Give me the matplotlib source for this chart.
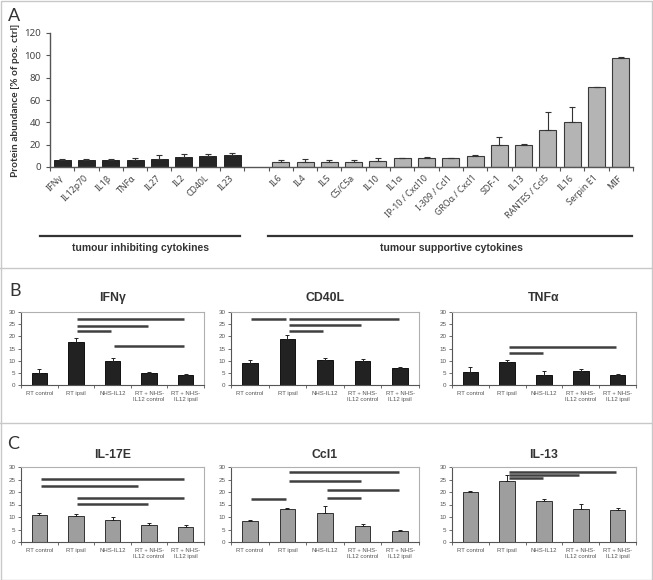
import numpy as np
import matplotlib
matplotlib.use("Agg")
import matplotlib.pyplot as plt
from matplotlib.lines import Line2D
from matplotlib.patches import Rectangle

# ---- panel A data ----
inhib_labels = ['IFNγ', 'IL12p70', 'IL1β', 'TNFα', 'IL27', 'IL2', 'CD40L', 'IL23']
inhib_vals = [6.0, 6.0, 6.0, 6.0, 7.2, 9.0, 9.9, 10.7]
inhib_err = [1.2, 1.5, 1.5, 2.4, 3.2, 2.3, 1.4, 1.8]

supp_labels = ['IL6', 'IL4', 'IL5', 'C5/C5a', 'IL10', 'IL1α', 'IP-10 / Cxcl10',
               'I-309 / Ccl1', 'GROα / Cxcl1', 'SDF-1', 'IL13', 'RANTES / Ccl5',
               'IL16', 'Serpin E1', 'MIF']
supp_vals = [4.8, 4.8, 4.5, 4.5, 5.7, 7.8, 7.8, 7.8, 10.0, 20.0, 20.0, 33.0, 40.0, 71.3, 97.3]
supp_err = [1.2, 2.1, 2.1, 2.1, 2.3, 0.7, 1.2, 0.5, 0.5, 7.0, 0.5, 16.0, 14.0, 0.7, 1.2]

# ---- panels B / C data ----
groups = ['RT control', 'RT ipsil', 'NHS-IL12', 'RT + NHS-\nIL12 control', 'RT + NHS-\nIL12 ipsil']

ifng_vals = [4.8, 17.7, 10.0, 5.0, 4.1]
ifng_err = [1.6, 1.7, 1.3, 0.5, 0.3]
ifng_sig = [(1, 4, 27.0), (1, 3, 24.3), (1, 2, 22.1), (2, 4, 16.1)]

cd40l_vals = [8.9, 18.7, 10.2, 9.8, 6.8]
cd40l_err = [1.3, 1.9, 1.1, 0.8, 0.7]
cd40l_sig = [(0, 1, 27.1), (1, 4, 27.1), (1, 3, 24.8), (1, 2, 22.2)]

tnfa_vals = [5.5, 9.5, 4.1, 5.7, 4.1]
tnfa_err = [2.0, 0.9, 1.5, 0.8, 0.5]
tnfa_sig = [(1, 4, 15.7), (1, 2, 13.0)]

il17e_vals = [10.8, 10.5, 9.0, 6.7, 6.1]
il17e_err = [0.9, 0.9, 1.0, 1.0, 0.9]
il17e_sig = [(0, 4, 25.2), (0, 2.75, 22.6), (1, 4, 17.5), (1, 3, 15.1)]

ccl1_vals = [8.3, 13.2, 11.7, 6.5, 4.3]
ccl1_err = [0.6, 0.5, 2.6, 0.6, 0.4]
ccl1_sig = [(0, 1, 17.3), (1, 4, 28.0), (1, 3, 24.3), (2, 4, 20.9), (2, 3, 17.5)]

il13_vals = [19.9, 24.3, 16.5, 13.2, 12.7]
il13_err = [0.6, 2.4, 0.6, 2.0, 0.9]
il13_sig = [(1, 4, 28.1), (1, 3, 26.7), (1, 2, 25.6)]

W, H = 653, 580
fig = plt.figure(figsize=(W / 100, H / 100), dpi=100)


def add_ax(left, top, right, bottom):
    return fig.add_axes([left / W, 1 - bottom / H, (right - left) / W, (bottom - top) / H])


def ftext(x, y, s, **kw):
    fig.text(x / W, 1 - y / H, s, **kw)


def fline(x0, x1, y0, y1, **kw):
    fig.add_artist(Line2D([x0 / W, x1 / W], [1 - y0 / H, 1 - y1 / H],
                          transform=fig.transFigure, **kw))


# frame and separators
fig.add_artist(Rectangle((0.5 / W, 0.5 / H), (W - 1.5) / W, (H - 1.5) / H, fill=False,
                         edgecolor='#c8c8c8', lw=1.0, transform=fig.transFigure))
fline(0, W, 268, 268, color='#c8c8c8', lw=1.0)
fline(0, W, 423, 423, color='#c8c8c8', lw=1.0)

# ---- panel A ----
ax = add_ax(50, 33, 633, 167)
xi = np.arange(len(inhib_labels))
xs = np.arange(len(supp_labels)) + len(inhib_labels) + 1
ekw = dict(elinewidth=0.8, capthick=0.8, ecolor='#333333')
ax.bar(xi, inhib_vals, width=0.7, color='#262626', edgecolor='#111111', lw=0.6,
       yerr=[np.zeros(len(xi)), inhib_err], capsize=2.5, error_kw=ekw)
ax.bar(xs, supp_vals, width=0.7, color='#b4b4b4', edgecolor='#3a3a3a', lw=0.8,
       yerr=[np.zeros(len(xs)), supp_err], capsize=2.5, error_kw=ekw)
ax.set_xlim(-0.5, xs[-1] + 0.5)
ax.set_ylim(0, 120)
ax.set_yticks(range(0, 121, 20))
ax.set_xticks(np.arange(-0.5, xs[-1] + 1, 1))
ax.set_xticklabels([])
ax.set_xticks(np.concatenate([xi, xs]), minor=True)
ax.set_xticklabels(inhib_labels + supp_labels, minor=True, rotation=45, ha='right',
                   va='center', rotation_mode='anchor', fontsize=6.3,
                   family='Noto Sans', color='#444444')
ax.tick_params(axis='x', which='minor', length=0, pad=7)
ax.tick_params(axis='x', which='major', length=3, color='#555555', direction='out')
ax.tick_params(axis='y', length=3, color='#555555', labelsize=7, labelcolor='#444444')
for lab in ax.get_yticklabels():
    lab.set_family('Noto Sans')
for s in ['top', 'right']:
    ax.spines[s].set_visible(False)
for s in ['left', 'bottom']:
    ax.spines[s].set_color('#555555')
    ax.spines[s].set_linewidth(1.0)
ax.set_ylabel('Protein abundance [% of pos. ctrl]', fontsize=7.3, fontweight='bold',
              family='Lato', color='#333333', labelpad=3)

ftext(14, 16, 'A', fontsize=13, family='Lato', color='#333333', ha='center', va='center')
fline(40, 240, 236, 236, color='#333333', lw=1.6)
fline(268, 632, 236, 236, color='#333333', lw=1.6)
ftext(140, 248, 'tumour inhibiting cytokines', fontsize=7.5, fontweight='bold',
      family='Liberation Sans', color='#333333', ha='center', va='center')
ftext(451, 248, 'tumour supportive cytokines', fontsize=7.5, fontweight='bold',
      family='Liberation Sans', color='#333333', ha='center', va='center')


# ---- panels B and C ----
def small_panel(left, right, top, bottom, title, title_y, vals, err, sig, color, edge):
    a = add_ax(left, top, right, bottom)
    x = np.arange(len(groups))
    a.bar(x, vals, width=0.42, color=color, edgecolor=edge, lw=0.7,
          yerr=[np.zeros(len(x)), err], capsize=1.5,
          error_kw=dict(elinewidth=0.7, capthick=0.7, ecolor='#222222'))
    for i0, i1, y in sig:
        a.plot([i0 + 0.04, i1 - 0.04], [y, y], color='#404040', lw=1.8,
               solid_capstyle='butt')
    a.set_xlim(-0.5, 4.5)
    a.set_ylim(0, 30)
    a.set_yticks(range(0, 31, 5))
    a.set_xticks(np.arange(-0.5, 5, 1))
    a.set_xticklabels([])
    a.set_xticks(x, minor=True)
    a.set_xticklabels(groups, minor=True, fontsize=4.3, family='Liberation Sans',
                      color='#555555', linespacing=1.3)
    a.tick_params(axis='x', which='minor', length=0, pad=4)
    a.tick_params(axis='x', which='major', length=2, width=0.6, color='#555555')
    a.tick_params(axis='y', length=2, width=0.6, color='#555555', labelsize=4.5,
                  labelcolor='#555555', pad=2)
    for lab in a.get_yticklabels():
        lab.set_family('Liberation Sans')
    for s in ['left', 'bottom']:
        a.spines[s].set_color('#555555')
        a.spines[s].set_linewidth(0.8)
    for s in ['top', 'right']:
        a.spines[s].set_color('#b0b0b0')
        a.spines[s].set_linewidth(0.8)
    ftext((left + right) / 2, title_y, title, fontsize=8.8, fontweight='bold',
          family='Liberation Sans', color='#333333', ha='center', va='center')
    return a


cols = [(21, 204), (231, 419), (452, 636)]
dark, dark_edge = '#222222', '#111111'
grey, grey_edge = '#9e9e9e', '#333333'

small_panel(*cols[0], 312, 385, 'IFNγ', 298, ifng_vals, ifng_err, ifng_sig, dark, dark_edge)
small_panel(*cols[1], 312, 385, 'CD40L', 298, cd40l_vals, cd40l_err, cd40l_sig, dark, dark_edge)
small_panel(*cols[2], 312, 385, 'TNFα', 298, tnfa_vals, tnfa_err, tnfa_sig, dark, dark_edge)

small_panel(*cols[0], 467, 542, 'IL-17E', 455, il17e_vals, il17e_err, il17e_sig, grey, grey_edge)
small_panel(*cols[1], 467, 542, 'Ccl1', 455, ccl1_vals, ccl1_err, ccl1_sig, grey, grey_edge)
small_panel(*cols[2], 467, 542, 'IL-13', 455, il13_vals, il13_err, il13_sig, grey, grey_edge)

ftext(15, 291, 'B', fontsize=13, family='Lato', color='#333333', ha='center', va='center')
ftext(13, 444, 'C', fontsize=13, family='Lato', color='#333333', ha='center', va='center')

fig.savefig('out.png', dpi=100, facecolor='white')
